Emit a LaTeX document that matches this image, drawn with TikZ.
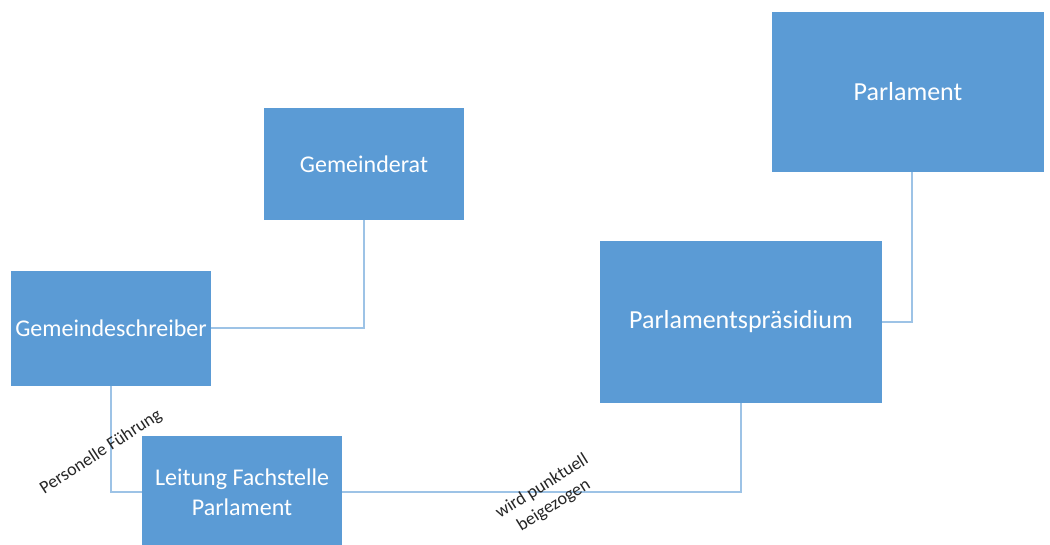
\documentclass[tikz,border=0pt]{standalone}
\usepackage{fontspec}
\setmainfont{Carlito}
\definecolor{boxblue}{HTML}{5B9BD5}
\definecolor{lineblue}{HTML}{9DC3E6}
\definecolor{labelgray}{HTML}{262626}
\begin{document}
\begin{tikzpicture}[x=1pt,y=-1pt,
  box/.style={fill=boxblue, draw=none, text=white, inner sep=0pt, align=center, font=\fontsize{24}{30}\selectfont},
  bigbox/.style={box, font=\fontsize{26}{30}\selectfont},
  conn/.style={draw=lineblue, line width=1.2pt},
  lbl/.style={text=labelgray, font=\fontsize{18}{22}\selectfont, inner sep=0pt, align=center}]
\useasboundingbox (0,0) rectangle (1050,544);
\clip (0,0) rectangle (1050,544);
\node[bigbox, minimum width=272pt, minimum height=160pt] (parl) at (908,92) {Parlament};
\node[box, minimum width=200pt, minimum height=112pt] (gr) at (364,164) {Gemeinderat};
\node[box, minimum width=200pt, minimum height=115pt] (gs) at (111,328) {Gemeindeschreiber};
\node[bigbox, minimum width=282pt, minimum height=162pt] (pp) at (741,322) {Parlamentspräsidium};
\node[box, minimum width=200pt, minimum height=112pt] (lf) at (242,492) {Leitung Fachstelle\\Parlament};
\draw[conn] (gr.south) |- (gs.east);
\draw[conn] ([xshift=4pt]parl.south) |- (pp.east);
\draw[conn] (gs.south) |- (lf.west);
\draw[conn] (pp.south) |- (lf.east);
\node[lbl, rotate=33] (l1) at (101,452) {Personelle Führung};
\node[lbl, rotate=32] (l2) at (548,496) {wird punktuell\\beigezogen};
\end{tikzpicture}
\end{document}
